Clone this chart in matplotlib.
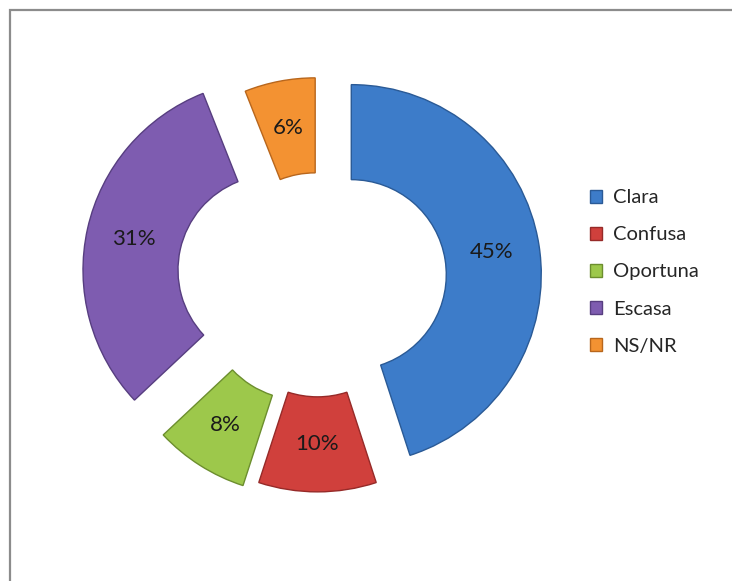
import numpy as np
import matplotlib
matplotlib.use('Agg')
from matplotlib import pyplot as plt
from matplotlib.patches import Rectangle

categorias = ['Clara', 'Confusa', 'Oportuna', 'Escasa', 'NS/NR']
porcentajes = [45, 10, 8, 31, 6]
colores = ['#3d7cc9', '#d0403c', '#9dc84b', '#7e5cb0', '#f39232']
bordes = ['#2a5a96', '#962a28', '#6c8e2e', '#573e80', '#b8661c']
separacion = [0.18, 0.115, 0.155, 0.24, 0.065]

plt.rcParams['font.family'] = ['Lato', 'DejaVu Sans']

W, H = 732, 581
fig = plt.figure(figsize=(W/100, H/100), dpi=100)
ax = fig.add_axes([0, 0, 1, 1])

# 1 unidad = 190 px, centro del anillo en (317.5, 280) px
esc = 190.0
cx, cy = 317.5, 280.0

wedges, textos, autotextos = ax.pie(
	porcentajes, colors=colores, explode=separacion, startangle=90,
	counterclock=False, radius=1, pctdistance=0.75,
	autopct='%1.0f%%',
	wedgeprops=dict(width=0.5, linewidth=1.0),
	textprops=dict(fontsize=16, color='#1a1a1a'))
for w, b in zip(wedges, bordes):
	w.set_edgecolor(b)

ax.set_xlim(-cx/esc, (W-cx)/esc)
ax.set_ylim(-(H-cy)/esc, cy/esc)
ax.axis('off')

leg = fig.legend(wedges, categorias, loc='center left',
	bbox_to_anchor=(590/W, 1-272/H), frameon=False,
	fontsize=14.5, handlelength=0.6, handleheight=0.6,
	handletextpad=0.55, labelspacing=1.0, borderaxespad=0, borderpad=0)
for t in leg.get_texts():
	t.set_color('#262626')

fig.patches.append(Rectangle((10/W, -0.1), 1.1, 1.1-10/H, transform=fig.transFigure,
	fill=False, edgecolor='#8c8c8c', linewidth=1.6))

fig.savefig('out.png', dpi=100)
